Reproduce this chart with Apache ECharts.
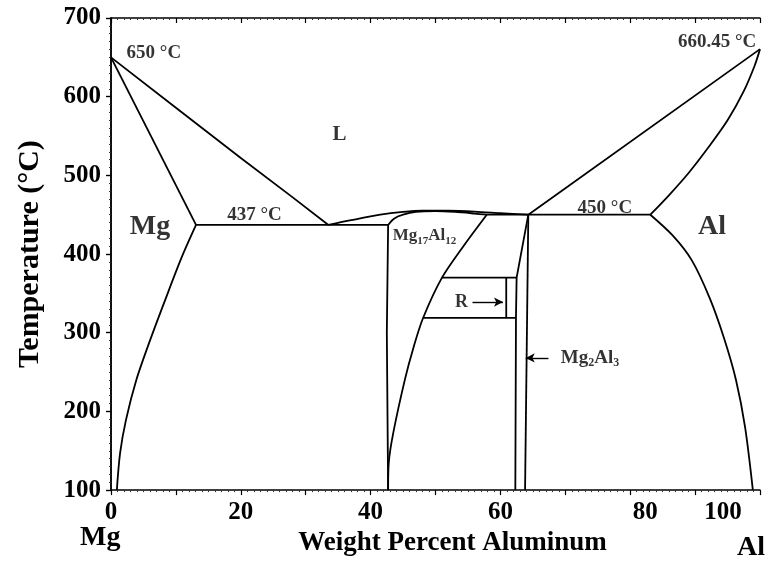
<!DOCTYPE html>
<html>
<head>
<meta charset="utf-8">
<script src="https://cdn.jsdelivr.net/npm/echarts@6/dist/echarts.min.js"></script>
<style>html,body{margin:0;padding:0;background:#fff;}#c{width:769px;height:562px;}</style>
</head>
<body>
<div id="c"></div>
<script>
// ---- data (wt% Al, temperature °C) ----
const xTickLabels = [0, 20, 40, 60, 80, 100];
const yTickLabels = [100, 200, 300, 400, 500, 600, 700];

const mgLiquidus   = [[0, 650], [10, 586], [20, 522], [28, 472], [33.5, 437]];
const mgSolidus    = [[0, 650], [13.1, 437]];
const mgSolvus     = [[13.1, 437], [10.9, 396], [8.5, 345], [6.0, 290], [3.9, 240], [2.3, 189], [1.4, 147], [0.9, 100]];
const eutecticLeft = [[13.1, 437], [42.7, 437]];
const liquidusDome = [[33.5, 437], [37, 443], [41.5, 450], [45, 453.5], [48, 455], [52, 455], [56, 454], [60, 452], [64.3, 450]];
const mg17Top      = [[42.7, 437], [43.6, 445], [45, 450], [47, 453.5], [50, 454.5], [53, 453.5], [56, 451.5], [57.9, 450]];
const mg17Left     = [[42.7, 437], [42.5, 300], [42.7, 100]];
const mg17Right    = [[57.9, 450], [54.3, 410], [51, 370], [48.1, 319], [46.6, 281], [45.3, 241], [43.5, 173], [42.8, 135], [42.7, 100]];
const mg2Al3Left   = [[64.3, 450], [62.5, 370], [62.4, 320], [62.3, 100]];
const mg2Al3Right  = [[64.3, 450], [63.8, 100]];
const eutecticRight= [[57.9, 450], [83.1, 450]];
const alLiquidus   = [[64.3, 450], [100, 660.45]];
const alSolidus    = [[83.1, 450], [86, 475], [89, 503], [92, 535], [95, 570], [97.5, 607], [99.2, 640], [100, 660.45]];
const alSolvus     = [[83.1, 450], [86.5, 424], [89.5, 392], [92.3, 343], [94.5, 292], [96.3, 240], [97.7, 180], [98.9, 100]];
const rUpper       = [[51, 370], [62.5, 370]];
const rLower       = [[48.1, 319], [62.4, 319]];
const rRight       = [[60.9, 370], [60.9, 319]];
const rArrow       = [[55.7, 339], [60.4, 339]];
const mg2Al3Arrow  = [[67.4, 268], [63.9, 268]];

// annotations: text, [wt%, °C]
const annotations = [
  { text: '650 °C',    at: [6.6, 656], size: 19 },
  { text: '437 °C',    at: [22.1, 449], size: 19 },
  { text: '450 °C',    at: [76.1, 459], size: 19 },
  { text: '660.45 °C', at: [93.4, 670], size: 19 },
  { text: 'L',         at: [35.2, 552], size: 21 },
  { text: 'Mg',        at: [6.0, 435],  size: 28 },
  { text: 'Al',        at: [92.6, 435], size: 28 },
  { text: 'R',         at: [54.0, 339], size: 18 },
  { text: '{b|Mg}{s|17}{b|Al}{s|12}', at: [48.3, 423], size: 17 },
  { text: '{b|Mg}{s|2}{b|Al}{s|3}',   at: [73.8, 268], size: 19 }
];

const FONT = '"Liberation Serif", "Times New Roman", serif';
const lineSets = [mgLiquidus, mgSolidus, mgSolvus, eutecticLeft, liquidusDome, mg17Top, mg17Left, mg17Right,
  mg2Al3Left, mg2Al3Right, eutecticRight, alLiquidus, alSolidus, alSolvus, rUpper, rLower, rRight];
const smoothSets = new Set([mgSolvus, liquidusDome, mg17Top, mg17Right, alSolidus, alSolvus]);

const series = lineSets.map(d => ({
  type: 'line', data: d, showSymbol: false, symbol: 'none',
  smooth: smoothSets.has(d) ? 0.3 : false,
  lineStyle: { color: '#000', width: 1.8 }, silent: true, animation: false
}));

[rArrow, mg2Al3Arrow].forEach(d => series.push({
  type: 'line', data: [], silent: true, animation: false,
  markLine: {
    silent: true, symbol: ['none', 'arrow'], symbolSize: [7, 9],
    lineStyle: { color: '#000', width: 1.4, type: 'solid' }, label: { show: false },
    data: [[{ coord: d[0] }, { coord: d[1] }]], animation: false
  }
}));

series.push({
  type: 'scatter', symbolSize: 1, itemStyle: { color: 'rgba(0,0,0,0)' }, silent: true, animation: false,
  data: annotations.map(a => ({
    value: a.at,
    label: {
      show: true, position: 'inside', formatter: a.text, fontFamily: FONT, fontWeight: 'bold',
      fontSize: a.size, color: '#000',
      rich: {
        b: { fontFamily: FONT, fontWeight: 'bold', fontSize: a.size, color: '#000' },
        s: { fontFamily: FONT, fontWeight: 'bold', fontSize: Math.round(a.size * 0.62), color: '#000', padding: [10, 0, 0, 0] }
      }
    }
  }))
});

const tickStyle = { lineStyle: { color: '#000', width: 1.2 } };
const chart = echarts.init(document.getElementById('c'), null, { renderer: 'canvas' });
chart.setOption({
  animation: false,
  backgroundColor: '#fff',
  grid: { left: 111, right: 9, top: 18, bottom: 71 },
  xAxis: [{
    type: 'value', min: 0, max: 100, interval: 10, position: 'bottom',
    axisLine: { show: true, lineStyle: { color: '#000', width: 1.5 } },
    axisTick: { show: true, inside: false, length: 5, ...tickStyle },
    minorTick: { show: true, splitNumber: 10, length: 2, lineStyle: { color: '#333', width: 1 } },
    splitLine: { show: false },
    axisLabel: {
      margin: 10, color: '#000', fontFamily: FONT, fontWeight: 'bold', fontSize: 25,
      formatter: v => xTickLabels.includes(v) ? (v === 100 ? '{l|100}' : (v === 80 ? '{r|80}' : String(v))) : '',
      rich: {
        l: { fontFamily: FONT, fontWeight: 'bold', fontSize: 25, color: '#000', padding: [0, 74, 0, 0] },
        r: { fontFamily: FONT, fontWeight: 'bold', fontSize: 25, color: '#000', padding: [0, 0, 0, 30] }
      }
    },
    name: 'Weight Percent Aluminum', nameLocation: 'middle', nameGap: 36,
    nameTextStyle: { fontFamily: FONT, fontWeight: 'bold', fontSize: 27, color: '#000', padding: [0, 0, 0, 34] }
  }, {
    type: 'value', min: 0, max: 100, interval: 10, position: 'top',
    axisLine: { show: true, lineStyle: { color: '#000', width: 1.5 } },
    axisTick: { show: true, inside: true, length: 5, ...tickStyle },
    minorTick: { show: true, splitNumber: 10, length: 2, lineStyle: { color: '#333', width: 1 } },
    splitLine: { show: false }, axisLabel: { show: false }
  }],
  yAxis: [{
    type: 'value', min: 100, max: 700, interval: 100, position: 'left',
    axisLine: { show: true, lineStyle: { color: '#000', width: 1.5 } },
    axisTick: { show: true, inside: false, length: 5, ...tickStyle },
    minorTick: { show: true, splitNumber: 10, length: 2, lineStyle: { color: '#333', width: 1 } },
    splitLine: { show: false },
    axisLabel: {
      margin: 10, color: '#000', fontFamily: FONT, fontWeight: 'bold', fontSize: 25,
      formatter: v => yTickLabels.includes(v) ? String(v) : ''
    },
    name: 'Temperature (°C)', nameLocation: 'middle', nameGap: 66,
    nameTextStyle: { fontFamily: FONT, fontWeight: 'bold', fontSize: 30, color: '#000' }
  }, {
    type: 'value', min: 100, max: 700, interval: 100, position: 'right',
    axisLine: { show: true, lineStyle: { color: '#000', width: 1.5 } },
    axisTick: { show: true, inside: true, length: 5, ...tickStyle },
    minorTick: { show: true, splitNumber: 10, length: 2, lineStyle: { color: '#333', width: 1 } },
    splitLine: { show: false }, axisLabel: { show: false }
  }],
  graphic: [
    { type: 'text', left: 80, top: 524, style: { text: 'Mg', font: 'bold 28px ' + FONT, fill: '#000' } },
    { type: 'text', left: 737, top: 534, style: { text: 'Al', font: 'bold 28px ' + FONT, fill: '#000' } }
  ],
  series: series
});
</script>
</body>
</html>
